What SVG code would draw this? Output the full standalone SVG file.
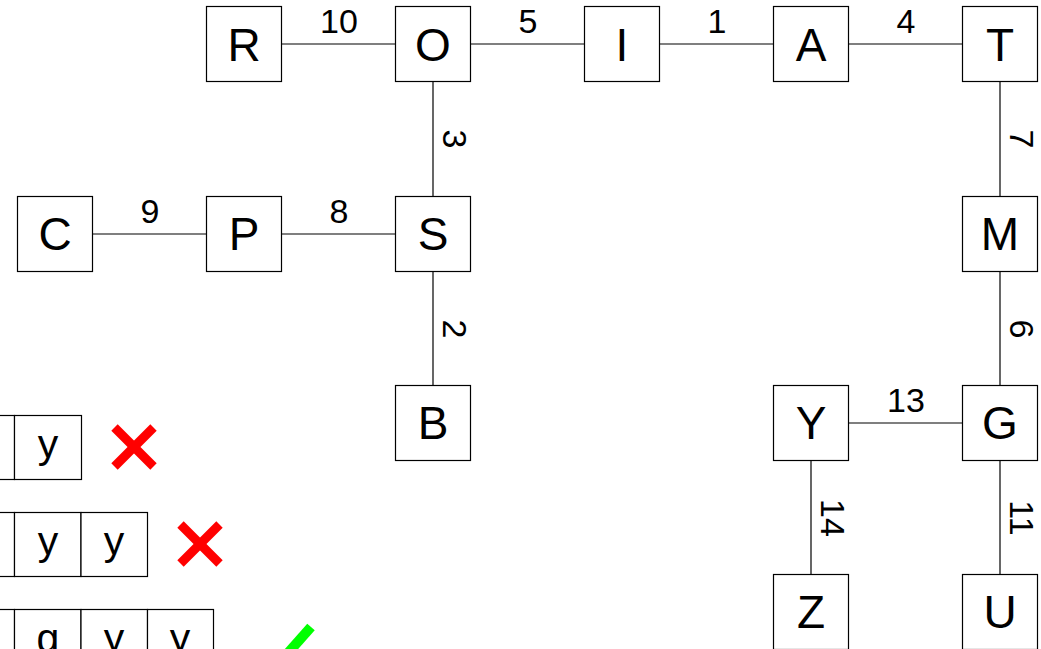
<svg xmlns="http://www.w3.org/2000/svg" width="1041" height="649" viewBox="0 0 1041 649">
<style>
.box{fill:#fff;stroke:#000;stroke-width:1.2}
.lbl{font-family:"Liberation Sans",Arial,sans-serif;font-size:46px;text-anchor:middle;fill:#000}
.el{font-family:"Liberation Sans",Arial,sans-serif;font-size:34px;text-anchor:middle;fill:#000}
.cell{font-family:"Liberation Sans",Arial,sans-serif;font-size:41px;text-anchor:middle;fill:#000}
.edge{stroke:#000;stroke-width:1.2;fill:none}
.x{stroke:#f00;stroke-width:9;stroke-linecap:butt}
</style>
<rect width="1041" height="649" fill="#fff"/>
<g id="connectors">
<line class="edge" x1="281.5" y1="44" x2="395.5" y2="44"/>
<line class="edge" x1="470.5" y1="44" x2="584.5" y2="44"/>
<line class="edge" x1="659.5" y1="44" x2="773.5" y2="44"/>
<line class="edge" x1="848.5" y1="44" x2="962.5" y2="44"/>
<line class="edge" x1="92.5" y1="234" x2="206.5" y2="234"/>
<line class="edge" x1="281.5" y1="234" x2="395.5" y2="234"/>
<line class="edge" x1="848.5" y1="423" x2="962.5" y2="423"/>
<line class="edge" x1="433" y1="81.5" x2="433" y2="196.5"/>
<line class="edge" x1="433" y1="271.5" x2="433" y2="385.5"/>
<line class="edge" x1="1000" y1="81.5" x2="1000" y2="196.5"/>
<line class="edge" x1="1000" y1="271.5" x2="1000" y2="385.5"/>
<line class="edge" x1="1000" y1="460.5" x2="1000" y2="574.5"/>
<line class="edge" x1="811" y1="460.5" x2="811" y2="574.5"/>
<text class="el" x="339" y="33">10</text>
<text class="el" x="528" y="33">5</text>
<text class="el" x="717" y="33">1</text>
<text class="el" x="906" y="33">4</text>
<text class="el" x="150" y="223">9</text>
<text class="el" x="339" y="223">8</text>
<text class="el" x="906" y="412">13</text>
<text class="el" transform="translate(443,139) rotate(90)">3</text>
<text class="el" transform="translate(1010,139) rotate(90)">7</text>
<text class="el" transform="translate(443,329) rotate(90)">2</text>
<text class="el" transform="translate(1010,329) rotate(90)">6</text>
<text class="el" transform="translate(821,518) rotate(90)">14</text>
<text class="el" transform="translate(1010,518) rotate(90)">11</text>
</g>
<g id="R"><rect class="box" x="206.5" y="6.5" width="75" height="75"/><text class="lbl" x="244" y="61">R</text></g>
<g id="O"><rect class="box" x="395.5" y="6.5" width="75" height="75"/><text class="lbl" x="433" y="61">O</text></g>
<g id="I"><rect class="box" x="584.5" y="6.5" width="75" height="75"/><text class="lbl" x="622" y="61">I</text></g>
<g id="A"><rect class="box" x="773.5" y="6.5" width="75" height="75"/><text class="lbl" x="811" y="61">A</text></g>
<g id="T"><rect class="box" x="962.5" y="6.5" width="75" height="75"/><text class="lbl" x="1000" y="61">T</text></g>
<g id="C"><rect class="box" x="17.5" y="196.5" width="75" height="75"/><text class="lbl" x="55" y="250">C</text></g>
<g id="P"><rect class="box" x="206.5" y="196.5" width="75" height="75"/><text class="lbl" x="244" y="250">P</text></g>
<g id="S"><rect class="box" x="395.5" y="196.5" width="75" height="75"/><text class="lbl" x="433" y="250">S</text></g>
<g id="M"><rect class="box" x="962.5" y="196.5" width="75" height="75"/><text class="lbl" x="1000" y="250">M</text></g>
<g id="B"><rect class="box" x="395.5" y="385.5" width="75" height="75"/><text class="lbl" x="433" y="439">B</text></g>
<g id="Y"><rect class="box" x="773.5" y="385.5" width="75" height="75"/><text class="lbl" x="811" y="439">Y</text></g>
<g id="G"><rect class="box" x="962.5" y="385.5" width="75" height="75"/><text class="lbl" x="1000" y="439">G</text></g>
<g id="Z"><rect class="box" x="773.5" y="574.5" width="75" height="75"/><text class="lbl" x="811" y="628">Z</text></g>
<g id="U"><rect class="box" x="962.5" y="574.5" width="75" height="75"/><text class="lbl" x="1000" y="628">U</text></g>
<g id="row1">
<rect class="box" x="-52" y="415.5" width="66.5" height="64"/>
<rect class="box" x="14.5" y="415.5" width="67" height="64"/>
<text class="cell" x="48" y="458">y</text>
<line class="x" x1="114.5" y1="427.5" x2="153.5" y2="466.5"/>
<line class="x" x1="153.5" y1="427.5" x2="114.5" y2="466.5"/>
</g>
<g id="row2">
<rect class="box" x="-52" y="512.5" width="66.5" height="64"/>
<rect class="box" x="14.5" y="512.5" width="66.5" height="64"/>
<rect class="box" x="81" y="512.5" width="66.5" height="64"/>
<text class="cell" x="48" y="555">y</text>
<text class="cell" x="114" y="555">y</text>
<line class="x" x1="180.5" y1="524.5" x2="219.5" y2="563.5"/>
<line class="x" x1="219.5" y1="524.5" x2="180.5" y2="563.5"/>
</g>
<g id="row3">
<rect class="box" x="-52" y="609.5" width="66.5" height="64"/>
<rect class="box" x="14.5" y="609.5" width="66.5" height="64"/>
<rect class="box" x="81" y="609.5" width="66.5" height="64"/>
<rect class="box" x="147.5" y="609.5" width="66" height="64"/>
<text class="cell" x="48" y="652">g</text>
<text class="cell" x="114" y="652">y</text>
<text class="cell" x="180" y="652">y</text>
<line stroke="#0f0" stroke-width="10" x1="311" y1="627" x2="280" y2="662"/>
</g>
</svg>
